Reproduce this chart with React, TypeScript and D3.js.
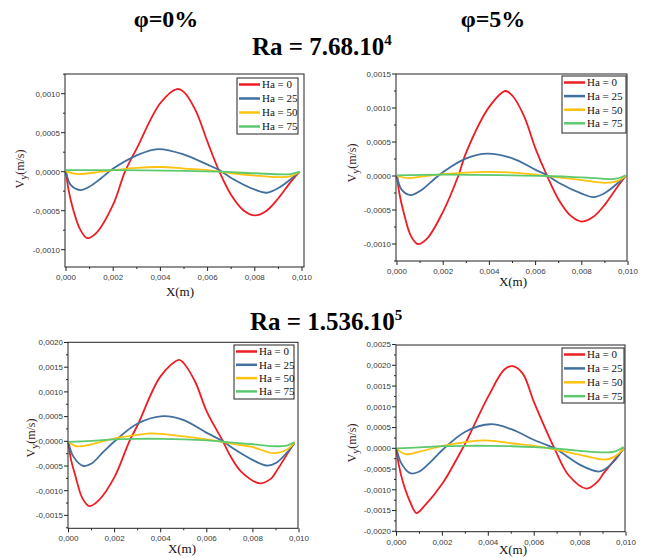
import React, { useEffect, useRef } from 'react';
import * as d3 from 'd3';

type Pt = [number, number];

const seriesNames = ['Ha = 0', 'Ha = 25', 'Ha = 50', 'Ha = 75'];
const seriesColors = ['#ee1d23', '#41709f', '#ffc20e', '#5cc96e'];
const xTicks = [0, 0.002, 0.004, 0.006, 0.008, 0.01];
const xMinor = [0.001, 0.003, 0.005, 0.007, 0.009];

// phi = 0%, Ra = 7.68e4
const p1Ha0: Pt[] = [[0, 0], [0.0001, -0.00022], [0.0003, -0.00048], [0.0006, -0.00074], [0.0009, -0.00085], [0.0013, -0.00078], [0.002, -0.00042], [0.0025, 0], [0.003, 0.0003], [0.004, 0.00088], [0.0047, 0.00106], [0.005, 0.00102], [0.0055, 0.00078], [0.006, 0.00038], [0.0065, 0], [0.007, -0.0003], [0.0075, -0.00049], [0.008, -0.00056], [0.0085, -0.0005], [0.009, -0.00034], [0.0095, -0.00014], [0.0099, 0]];
const p1Ha25: Pt[] = [[0, 0], [0.0002, -0.00017], [0.0006, -0.000235], [0.001, -0.00019], [0.0015, -0.00008], [0.002, 0.00004], [0.003, 0.00021], [0.0039, 0.00029], [0.005, 0.00022], [0.006, 0.00009], [0.0065, 0.00002], [0.007, -0.00008], [0.008, -0.00023], [0.0085, -0.00027], [0.009, -0.00021], [0.0099, 0]];
const p1Ha50: Pt[] = [[0, 0], [0.0005, -0.00003], [0.0015, 0], [0.003, 0.00005], [0.004, 0.00006], [0.005, 0.00004], [0.006, 0.00002], [0.0065, 0], [0.007, -0.00002], [0.008, -0.00005], [0.009, -0.00007], [0.0095, -0.00006], [0.0099, 0]];
const p1Ha75: Pt[] = [[0, 0.00002], [0.002, 0.00002], [0.005, 0.00001], [0.0065, 0], [0.008, -0.00002], [0.0095, -0.00003], [0.0099, 0]];

// phi = 5%, Ra = 7.68e4
const p2Ha0: Pt[] = [[0, 0], [0.0001, -0.00025], [0.0003, -0.00055], [0.0006, -0.00088], [0.0009, -0.001], [0.0013, -0.00092], [0.002, -0.00052], [0.00265, 0], [0.003, 0.00035], [0.004, 0.00102], [0.0047, 0.00125], [0.005, 0.00118], [0.0055, 0.00088], [0.006, 0.0004], [0.0065, 0], [0.007, -0.00035], [0.0075, -0.00058], [0.008, -0.00067], [0.0085, -0.0006], [0.009, -0.00042], [0.0095, -0.00018], [0.0099, 0]];
const p2Ha25: Pt[] = [[0, 0], [0.0002, -0.0002], [0.0006, -0.00028], [0.001, -0.00022], [0.0015, -0.00008], [0.002, 0.00006], [0.003, 0.00026], [0.0039, 0.00033], [0.005, 0.00026], [0.006, 0.00009], [0.0065, 0.00001], [0.007, -0.0001], [0.008, -0.00026], [0.0085, -0.00031], [0.009, -0.00025], [0.0099, 0]];
const p2Ha50: Pt[] = [[0, 0], [0.0005, -0.00003], [0.0015, 0.00001], [0.003, 0.00005], [0.004, 0.00006], [0.005, 0.00005], [0.006, 0.00002], [0.0065, 0], [0.007, -0.00002], [0.008, -0.00006], [0.009, -0.0001], [0.0095, -0.00008], [0.0099, 0]];
const p2Ha75: Pt[] = [[0, 0.00001], [0.002, 0.00002], [0.005, 0.00001], [0.0065, 0], [0.008, -0.00002], [0.0095, -0.00004], [0.0099, 0.00001]];

// phi = 0%, Ra = 1.536e5
const p3Ha0: Pt[] = [[0, -0.00002], [0.0001, -0.00035], [0.0003, -0.0007], [0.0006, -0.00115], [0.0009, -0.00131], [0.0013, -0.0012], [0.002, -0.00072], [0.00264, 0], [0.003, 0.00033], [0.004, 0.00132], [0.0048, 0.00165], [0.005, 0.00158], [0.0055, 0.0012], [0.006, 0.0006], [0.0067, 0], [0.007, -0.00028], [0.0075, -0.00062], [0.0083, -0.00085], [0.0088, -0.00075], [0.009, -0.00062], [0.0095, -0.00025], [0.0098, -0.00002]];
const p3Ha25: Pt[] = [[0, -0.00002], [0.0002, -0.0003], [0.00065, -0.0005], [0.001, -0.00045], [0.0015, -0.00022], [0.002, 0], [0.003, 0.00036], [0.0041, 0.00051], [0.005, 0.00043], [0.006, 0.00017], [0.0067, 0], [0.007, -0.0001], [0.008, -0.00038], [0.0086, -0.00049], [0.009, -0.00044], [0.0098, -0.00005]];
const p3Ha50: Pt[] = [[0, -0.00002], [0.00036, -0.0001], [0.001, -0.00006], [0.002, 0.00006], [0.003, 0.00013], [0.0036, 0.00016], [0.005, 0.0001], [0.006, 0.00004], [0.007, -0.00004], [0.008, -0.00012], [0.0089, -0.00024], [0.0095, -0.00016], [0.0098, -0.00003]];
const p3Ha75: Pt[] = [[0, -0.00001], [0.001, 0.00001], [0.002, 0.00004], [0.003, 0.00005], [0.004, 0.00005], [0.005, 0.00004], [0.006, 0.00002], [0.007, -0.00002], [0.008, -0.00006], [0.009, -0.0001], [0.0095, -0.00008], [0.0098, -0.00002]];

// phi = 5%, Ra = 1.536e5
const p4Ha0: Pt[] = [[0, -0.00003], [0.0001, -0.0004], [0.0003, -0.00085], [0.0006, -0.0013], [0.00087, -0.00156], [0.0012, -0.0014], [0.002, -0.00085], [0.00288, 0], [0.003, 0.00012], [0.004, 0.00125], [0.0047, 0.0019], [0.00506, 0.00198], [0.0055, 0.0018], [0.006, 0.0011], [0.00688, 0], [0.0075, -0.00065], [0.00828, -0.00097], [0.0088, -0.00078], [0.009, -0.00062], [0.0095, -0.00028], [0.0099, 0]];
const p4Ha25: Pt[] = [[0, 0], [0.0002, -0.00035], [0.0006, -0.0006], [0.001, -0.00056], [0.0015, -0.00032], [0.002, -0.00004], [0.003, 0.0004], [0.0041, 0.00058], [0.005, 0.00046], [0.006, 0.0002], [0.0069, 0], [0.007, -0.00003], [0.008, -0.0004], [0.0088, -0.00056], [0.009, -0.00053], [0.0095, -0.0003], [0.0099, 0]];
const p4Ha50: Pt[] = [[0, 0], [0.0004, -0.00014], [0.001, -0.00008], [0.002, 0.00006], [0.003, 0.00015], [0.0039, 0.00019], [0.005, 0.00012], [0.006, 0.00006], [0.007, -0.00004], [0.008, -0.00016], [0.0091, -0.00027], [0.0095, -0.0002], [0.0099, 0]];
const p4Ha75: Pt[] = [[0, 0], [0.001, 0.00002], [0.002, 0.00005], [0.003, 0.00006], [0.004, 0.00006], [0.005, 0.00005], [0.006, 0.00003], [0.007, -0.00001], [0.008, -0.00006], [0.009, -0.0001], [0.0095, -0.00008], [0.0099, 0.00003]];

const p1YTicks = [-0.001, -0.0005, 0, 0.0005, 0.001];
const p2YTicks = [-0.001, -0.0005, 0, 0.0005, 0.001, 0.0015];
const p3YTicks = [-0.0015, -0.001, -0.0005, 0, 0.0005, 0.001, 0.0015, 0.002];
const p4YTicks = [-0.002, -0.0015, -0.001, -0.0005, 0, 0.0005, 0.001, 0.0015, 0.002, 0.0025];

const panels = [
  { series: [p1Ha0, p1Ha25, p1Ha50, p1Ha75], yTicks: p1YTicks, x0: 66, x10: 302, fl: 65, fr: 304, top: 74, bottom: 267, yZero: 171.7, yPer: 78,
    leg: { x: 237, y: 78, w: 61, h: 56, row: 14 }, xLab: [180, 296], yLab: [24, 169] },
  { series: [p2Ha0, p2Ha25, p2Ha50, p2Ha75], yTicks: p2YTicks, x0: 397, x10: 628, fl: 396, fr: 627, top: 74, bottom: 261, yZero: 176, yPer: 68,
    leg: { x: 562, y: 76, w: 64, h: 57, row: 13.6 }, xLab: [513, 286], yLab: [356, 163] },
  { series: [p3Ha0, p3Ha25, p3Ha50, p3Ha75], yTicks: p3YTicks, x0: 68.5, x10: 299, fl: 68, fr: 298, top: 342.3, bottom: 528.3, yZero: 441.3, yPer: 49.4,
    leg: { x: 234, y: 345, w: 60, h: 54, row: 13.3 }, xLab: [182, 553], yLab: [35, 438] },
  { series: [p4Ha0, p4Ha25, p4Ha50, p4Ha75], yTicks: p4YTicks, x0: 396.5, x10: 626, fl: 396, fr: 625, top: 345, bottom: 531.7, yZero: 448.3, yPer: 41.5,
    leg: { x: 562, y: 348, w: 62, h: 55, row: 13.9 }, xLab: [513, 554], yLab: [356, 443] },
];

const fmt = (dec: number) => (v: number) => d3.format(`.${dec}f`)(v).replace('.', ',').replace('−', '-');

function Panel({ cfg }: { cfg: any }) {
  const ref = useRef<SVGGElement>(null);

  useEffect(() => {
    if (!ref.current) return;
    const g = d3.select(ref.current);
    g.selectAll('*').remove();

    const x = d3.scaleLinear().domain([0, 0.01]).range([cfg.x0, cfg.x10]);
    const y = d3.scaleLinear().domain([0, 0.001]).range([cfg.yZero, cfg.yZero - cfg.yPer]);

    const line = d3.line<Pt>()
      .x(d => x(d[0]))
      .y(d => y(d[1]))
      .curve(d3.curveCatmullRom.alpha(0.5));

    cfg.series.forEach((s: Pt[], i: number) => {
      g.append('path')
        .datum(s)
        .attr('fill', 'none')
        .attr('stroke', seriesColors[i])
        .attr('stroke-width', 1.8)
        .attr('stroke-linejoin', 'round')
        .attr('d', line);
    });

    // frame
    g.append('rect')
      .attr('x', cfg.fl).attr('y', cfg.top)
      .attr('width', cfg.fr - cfg.fl).attr('height', cfg.bottom - cfg.top)
      .attr('fill', 'none').attr('stroke', '#222').attr('stroke-width', 1);

    // x ticks
    xTicks.forEach(t => {
      g.append('line').attr('x1', x(t)).attr('x2', x(t)).attr('y1', cfg.bottom).attr('y2', cfg.bottom + 4).attr('stroke', '#222');
      g.append('text')
        .attr('x', x(t)).attr('y', cfg.bottom + 13)
        .attr('text-anchor', 'middle')
        .attr('font-family', '"Liberation Sans", Arial, sans-serif')
        .attr('font-size', 8).attr('fill', '#3a3a3a')
        .text(fmt(3)(t));
    });
    xMinor.forEach(t => {
      g.append('line').attr('x1', x(t)).attr('x2', x(t)).attr('y1', cfg.bottom).attr('y2', cfg.bottom + 2).attr('stroke', '#222');
    });

    // y ticks
    const yt: number[] = cfg.yTicks;
    yt.forEach(t => {
      g.append('line').attr('x1', cfg.fl - 4).attr('x2', cfg.fl).attr('y1', y(t)).attr('y2', y(t)).attr('stroke', '#222');
      g.append('text')
        .attr('x', cfg.fl - 5).attr('y', y(t)).attr('dy', '0.35em')
        .attr('text-anchor', 'end')
        .attr('font-family', '"Liberation Sans", Arial, sans-serif')
        .attr('font-size', 8).attr('fill', '#3a3a3a')
        .text(fmt(4)(t));
    });
    const step = 0.00025;
    for (let v = yt[0] - step; v <= yt[yt.length - 1] + step + 1e-9; v += 2 * step) {
      const py = y(v);
      if (py < cfg.top || py > cfg.bottom) continue;
      g.append('line').attr('x1', cfg.fl - 2).attr('x2', cfg.fl).attr('y1', py).attr('y2', py).attr('stroke', '#222');
    }

    // axis titles
    g.append('text')
      .attr('x', cfg.xLab[0]).attr('y', cfg.xLab[1])
      .attr('text-anchor', 'middle')
      .attr('font-family', '"Liberation Serif", "Times New Roman", serif')
      .attr('font-size', 13).attr('fill', '#111')
      .text('X(m)');

    const yl = g.append('text')
      .attr('transform', `translate(${cfg.yLab[0]},${cfg.yLab[1]}) rotate(-90)`)
      .attr('text-anchor', 'middle')
      .attr('font-family', '"Liberation Serif", "Times New Roman", serif')
      .attr('font-size', 12).attr('fill', '#3b2424');
    yl.append('tspan').text('V');
    yl.append('tspan').attr('dy', 3).attr('font-size', 10).text('y');
    yl.append('tspan').attr('dy', -3).text('(m/s)');

    // legend
    const L = cfg.leg;
    g.append('rect')
      .attr('x', L.x).attr('y', L.y).attr('width', L.w).attr('height', L.h)
      .attr('fill', 'white').attr('stroke', '#222').attr('stroke-width', 1);
    seriesNames.forEach((name, i) => {
      const ry = L.y + 6.5 + i * L.row;
      g.append('line')
        .attr('x1', L.x + 2).attr('x2', L.x + 23)
        .attr('y1', ry).attr('y2', ry)
        .attr('stroke', seriesColors[i]).attr('stroke-width', 2.5);
      g.append('text')
        .attr('x', L.x + 25).attr('y', ry).attr('dy', '0.35em')
        .attr('font-family', '"Liberation Serif", "Times New Roman", serif')
        .attr('font-size', 11).attr('fill', '#111')
        .text(name);
    });
  }, [cfg]);

  return <g ref={ref} />;
}

export default function App() {
  const serif = '"Liberation Serif", "Times New Roman", serif';
  return (
    <svg width={651} height={558} style={{ position: 'absolute', left: 0, top: 0, background: 'white' }}>
      <rect x={0} y={0} width={651} height={558} fill="white" />
      <text x={166} y={27} textAnchor="middle" fontFamily={serif} fontWeight="bold" fontSize={24}>φ=0%</text>
      <text x={493} y={27} textAnchor="middle" fontFamily={serif} fontWeight="bold" fontSize={24}>φ=5%</text>
      <text x={252} y={55} fontFamily={serif} fontWeight="bold" fontSize={25}>
        Ra = 7.68.10<tspan dy={-10} fontSize={15}>4</tspan>
      </text>
      <text x={250} y={330} fontFamily={serif} fontWeight="bold" fontSize={25}>
        Ra = 1.536.10<tspan dy={-10} fontSize={15}>5</tspan>
      </text>
      {panels.map((p, i) => <Panel key={i} cfg={p} />)}
    </svg>
  );
}
